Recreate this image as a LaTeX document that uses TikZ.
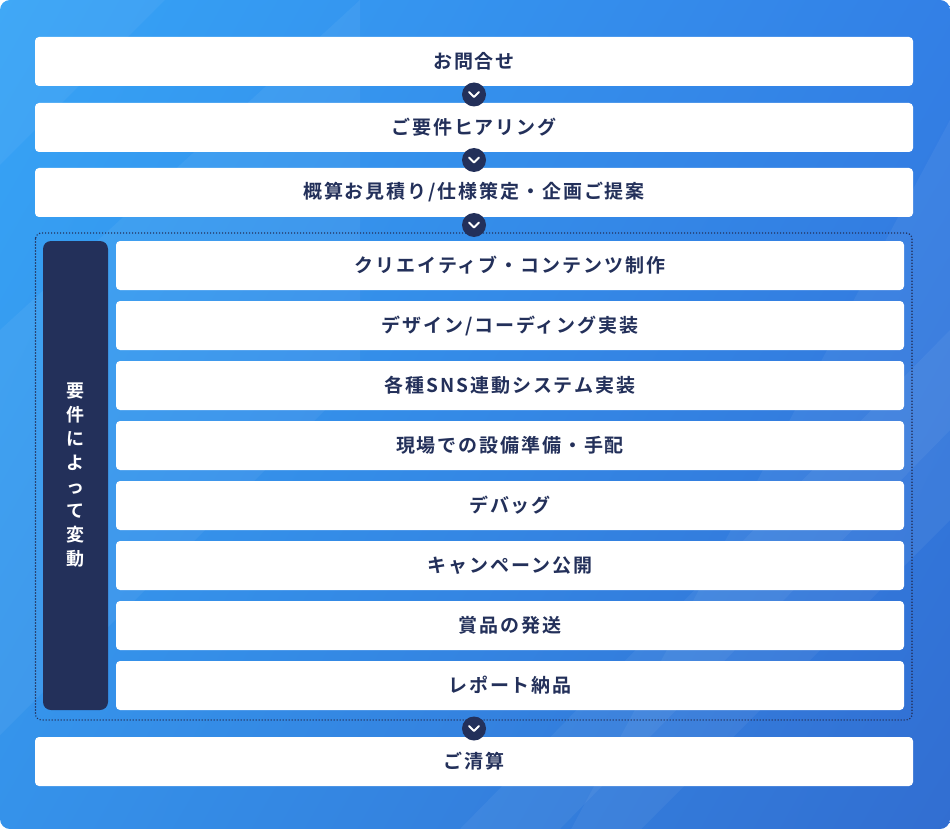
\documentclass[tikz,border=0pt]{standalone}
\usepackage{fontspec}
\setmainfont{Noto Sans CJK JP}
\newfontfamily\stepfont{Noto Sans CJK JP Bold}[LetterSpace=10]
\usetikzlibrary{positioning,calc,shadings}

\definecolor{navy}{HTML}{23305A}
\definecolor{bgul}{HTML}{36A4F6}
\definecolor{bgur}{HTML}{3380E6}
\definecolor{bgll}{HTML}{3592EA}
\definecolor{bglr}{HTML}{326ED1}

\begin{document}
\begin{tikzpicture}[x=1pt, y=-1pt,
    stepbox/.style={fill=white, rounded corners=4pt, minimum height=49pt, inner sep=0pt,
      text=navy, font=\stepfont\fontsize{19}{21}\selectfont},
    widebox/.style={stepbox, minimum width=878pt},
    subbox/.style={stepbox, minimum width=788pt},
    chev/.style={circle, fill=navy, minimum size=24pt, inner sep=0pt},
    chevmark/.style={white, line width=2pt, line cap=round, line join=round},
    band/.style={fill=white, opacity=0.05}
]

\def\rowgap{60}

\useasboundingbox (0,0) rectangle (950,829);
\shade[rounded corners=10pt, upper left=bgul, upper right=bgur, lower left=bgll, lower right=bglr]
  (0,0) rectangle (950,829);
\begin{scope}
  \clip[rounded corners=10pt] (0,0) rectangle (950,829);
  \fill[band] (0,0) -- (165,0) -- (0,165) -- cycle;
  \fill[band] (0,330) -- (0,735) -- (360,375) -- (360,0) -- cycle;
  \fill[band] (950,120) -- (950,520) -- (620,850) -- (560,850) -- cycle;
  \fill[band] (950,330) -- (950,430) -- (560,829) -- (460,829) -- cycle;
\end{scope}

\node[widebox] (s1) at (474,61.5) {お問合せ};
\node[widebox] (s2) at (474,127.5) {ご要件ヒアリング};
\node[widebox] (s3) at (474,192.5) {概算お見積り/仕様策定・企画ご提案};

\draw[navy, line width=1.6pt, line cap=round, dash pattern=on 0pt off 3pt, rounded corners=6pt]
  (35.5,233) rectangle (912,720);

\node[fill=navy, rounded corners=8pt, minimum width=65pt, minimum height=469pt, inner sep=0pt,
  text=white, align=center, font=\stepfont\fontsize{18}{24}\selectfont] (side) at (75.5,475.5)
  {要\\件\\に\\よ\\っ\\て\\変\\動};

\foreach \t [count=\n from 0] in {クリエイティブ・コンテンツ制作, デザイン/コーディング実装,
    各種SNS連動システム実装, 現場での設備準備・手配, デバッグ, キャンペーン公開,
    賞品の発送, レポート納品} {
  \node[subbox] (i\n) at (510,{265.5+\rowgap*\n}) {\t};
}

\node[widebox] (s4) at (474,761.5) {ご清算};

\node[chev] (c1) at ($(s1.south)!0.5!(s2.north)$) {};
\node[chev] (c2) at ($(s2.south)!0.5!(s3.north)$) {};
\node[chev] (c3) at (474,225) {};
\node[chev] (c4) at (474,728.5) {};
\foreach \c in {c1,c2,c3,c4} {
  \draw[chevmark] ($(\c)+(-5,-2.5)$) -- ($(\c)+(0,2.5)$) -- ($(\c)+(5,-2.5)$);
}

\end{tikzpicture}
\end{document}
